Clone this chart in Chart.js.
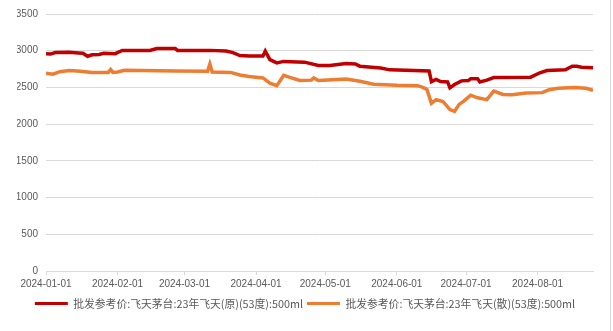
<!DOCTYPE html>
<html>
<head>
<meta charset="utf-8">
<script src="https://cdn.jsdelivr.net/npm/chart.js@4/dist/chart.umd.min.js"></script>
<style>
  html, body { margin: 0; padding: 0; background: #fff; }
  #wrap { position: relative; width: 610px; height: 331px; border-right: 1px solid #D9D9D9; }
  canvas { display: block; }
</style>
</head>
<body>
<div id="wrap"><canvas id="c" width="610" height="331"></canvas></div>
<script>
const seriesNames = ['批发参考价:飞天茅台:23年飞天(原)(53度):500ml', '批发参考价:飞天茅台:23年飞天(散)(53度):500ml'];
const monthTickDates = ['2024-01-01','2024-02-01','2024-03-01','2024-04-01','2024-05-01','2024-06-01','2024-07-01','2024-08-01'];
const axisEndDate = '2024-08-25';
const yTicks = [0, 500, 1000, 1500, 2000, 2500, 3000, 3500];

const redDates = ['2024-01-01','2024-01-03','2024-01-05','2024-01-11','2024-01-15','2024-01-17','2024-01-19','2024-01-21','2024-01-24','2024-01-26','2024-01-31','2024-02-02','2024-02-03','2024-02-15','2024-02-18','2024-02-26','2024-02-27','2024-03-12','2024-03-19','2024-03-22','2024-03-25','2024-03-29','2024-04-04','2024-04-05','2024-04-07','2024-04-10','2024-04-13','2024-04-22','2024-04-28','2024-05-03','2024-05-10','2024-05-14','2024-05-16','2024-05-25','2024-05-29','2024-06-15','2024-06-16','2024-06-18','2024-06-20','2024-06-23','2024-06-24','2024-06-26','2024-06-29','2024-07-02','2024-07-03','2024-07-06','2024-07-07','2024-07-10','2024-07-13','2024-07-29','2024-08-02','2024-08-05','2024-08-13','2024-08-16','2024-08-18','2024-08-20','2024-08-25'];
const redValues = [2960,2955,2975,2980,2970,2965,2925,2945,2950,2965,2960,2990,3005,3005,3030,3030,3005,3005,2995,2975,2935,2930,2930,2995,2880,2835,2855,2845,2800,2800,2825,2820,2790,2765,2740,2725,2580,2610,2580,2575,2495,2540,2590,2595,2620,2620,2576,2600,2635,2640,2700,2730,2740,2790,2790,2775,2770];

const orangeDates = ['2024-01-01','2024-01-04','2024-01-07','2024-01-11','2024-01-16','2024-01-21','2024-01-28','2024-01-29','2024-01-30','2024-02-01','2024-02-04','2024-02-26','2024-03-11','2024-03-12','2024-03-13','2024-03-21','2024-03-25','2024-03-29','2024-04-04','2024-04-07','2024-04-10','2024-04-13','2024-04-16','2024-04-20','2024-04-25','2024-04-26','2024-04-28','2024-05-10','2024-05-16','2024-05-22','2024-06-01','2024-06-10','2024-06-12','2024-06-14','2024-06-16','2024-06-18','2024-06-21','2024-06-24','2024-06-26','2024-06-28','2024-06-30','2024-07-03','2024-07-06','2024-07-10','2024-07-13','2024-07-17','2024-07-21','2024-07-27','2024-08-03','2024-08-06','2024-08-10','2024-08-17','2024-08-22','2024-08-25'];
const orangeValues = [2695,2680,2715,2730,2720,2705,2705,2745,2705,2710,2735,2725,2720,2820,2710,2705,2670,2650,2630,2560,2525,2665,2635,2595,2600,2630,2595,2615,2585,2545,2530,2525,2505,2475,2285,2335,2310,2200,2175,2270,2315,2395,2360,2335,2450,2405,2400,2425,2430,2470,2490,2500,2490,2460];

const DAY = 86400000;
const base = Date.UTC(2024, 0, 1);
function dayIndex(s) { const p = s.split('-').map(Number); return (Date.UTC(p[0], p[1]-1, p[2]) - base) / DAY; }
function toPoints(dates, vals) { return dates.map((d, i) => ({ x: dayIndex(d), y: vals[i] })); }
const tickPositions = monthTickDates.map(dayIndex);

const RED = '#C00000', ORANGE = '#ED7D31', TXT = '#595959', GRID = '#D9D9D9';

new Chart(document.getElementById('c'), {
  type: 'line',
  data: {
    datasets: [
      { label: seriesNames[0], data: toPoints(redDates, redValues), borderColor: RED, backgroundColor: RED, borderWidth: 3.5, pointRadius: 0, tension: 0 },
      { label: seriesNames[1], data: toPoints(orangeDates, orangeValues), borderColor: ORANGE, backgroundColor: ORANGE, borderWidth: 3.5, pointRadius: 0, tension: 0 }
    ]
  },
  options: {
    responsive: false,
    animation: false,
    layout: { padding: { left: 17, right: 17, top: 1, bottom: 12 } },
    plugins: {
      tooltip: { enabled: false },
      legend: {
        position: 'bottom',
        labels: {
          color: TXT,
          font: { family: '"Noto Sans CJK SC", "Liberation Sans", sans-serif', size: 10.8 },
          boxWidth: 33, boxHeight: 3, padding: 4,
          generateLabels: (chart) => chart.data.datasets.map((ds, i) => ({
            text: ds.label, fillStyle: ds.borderColor, strokeStyle: ds.borderColor, lineWidth: 0, datasetIndex: i, fontColor: TXT
          }))
        }
      }
    },
    scales: {
      x: {
        type: 'linear',
        min: 0,
        max: dayIndex(axisEndDate),
        afterBuildTicks: (scale) => { scale.ticks = tickPositions.map(v => ({ value: v })); },
        afterFit: (scale) => { scale.height = 23; },
        ticks: {
          autoSkip: false, maxRotation: 0, color: TXT, padding: 3,
          font: { family: '"Liberation Sans", Arial, sans-serif', size: 10 },
          callback: (v) => { const i = tickPositions.indexOf(v); return i >= 0 ? monthTickDates[i] : ''; }
        },
        grid: { drawOnChartArea: false, drawTicks: true, tickLength: 4, color: GRID },
        border: { color: GRID, width: 1 }
      },
      y: {
        min: 0, max: 3500,
        afterBuildTicks: (scale) => { scale.ticks = yTicks.map(v => ({ value: v })); },
        afterFit: (scale) => { scale.width = 29; },
        ticks: { color: TXT, padding: 8, font: { family: '"Liberation Sans", Arial, sans-serif', size: 10 }, callback: (v) => String(v) },
        grid: { color: GRID, drawTicks: false },
        border: { display: false }
      }
    }
  }
});
</script>
</body>
</html>
